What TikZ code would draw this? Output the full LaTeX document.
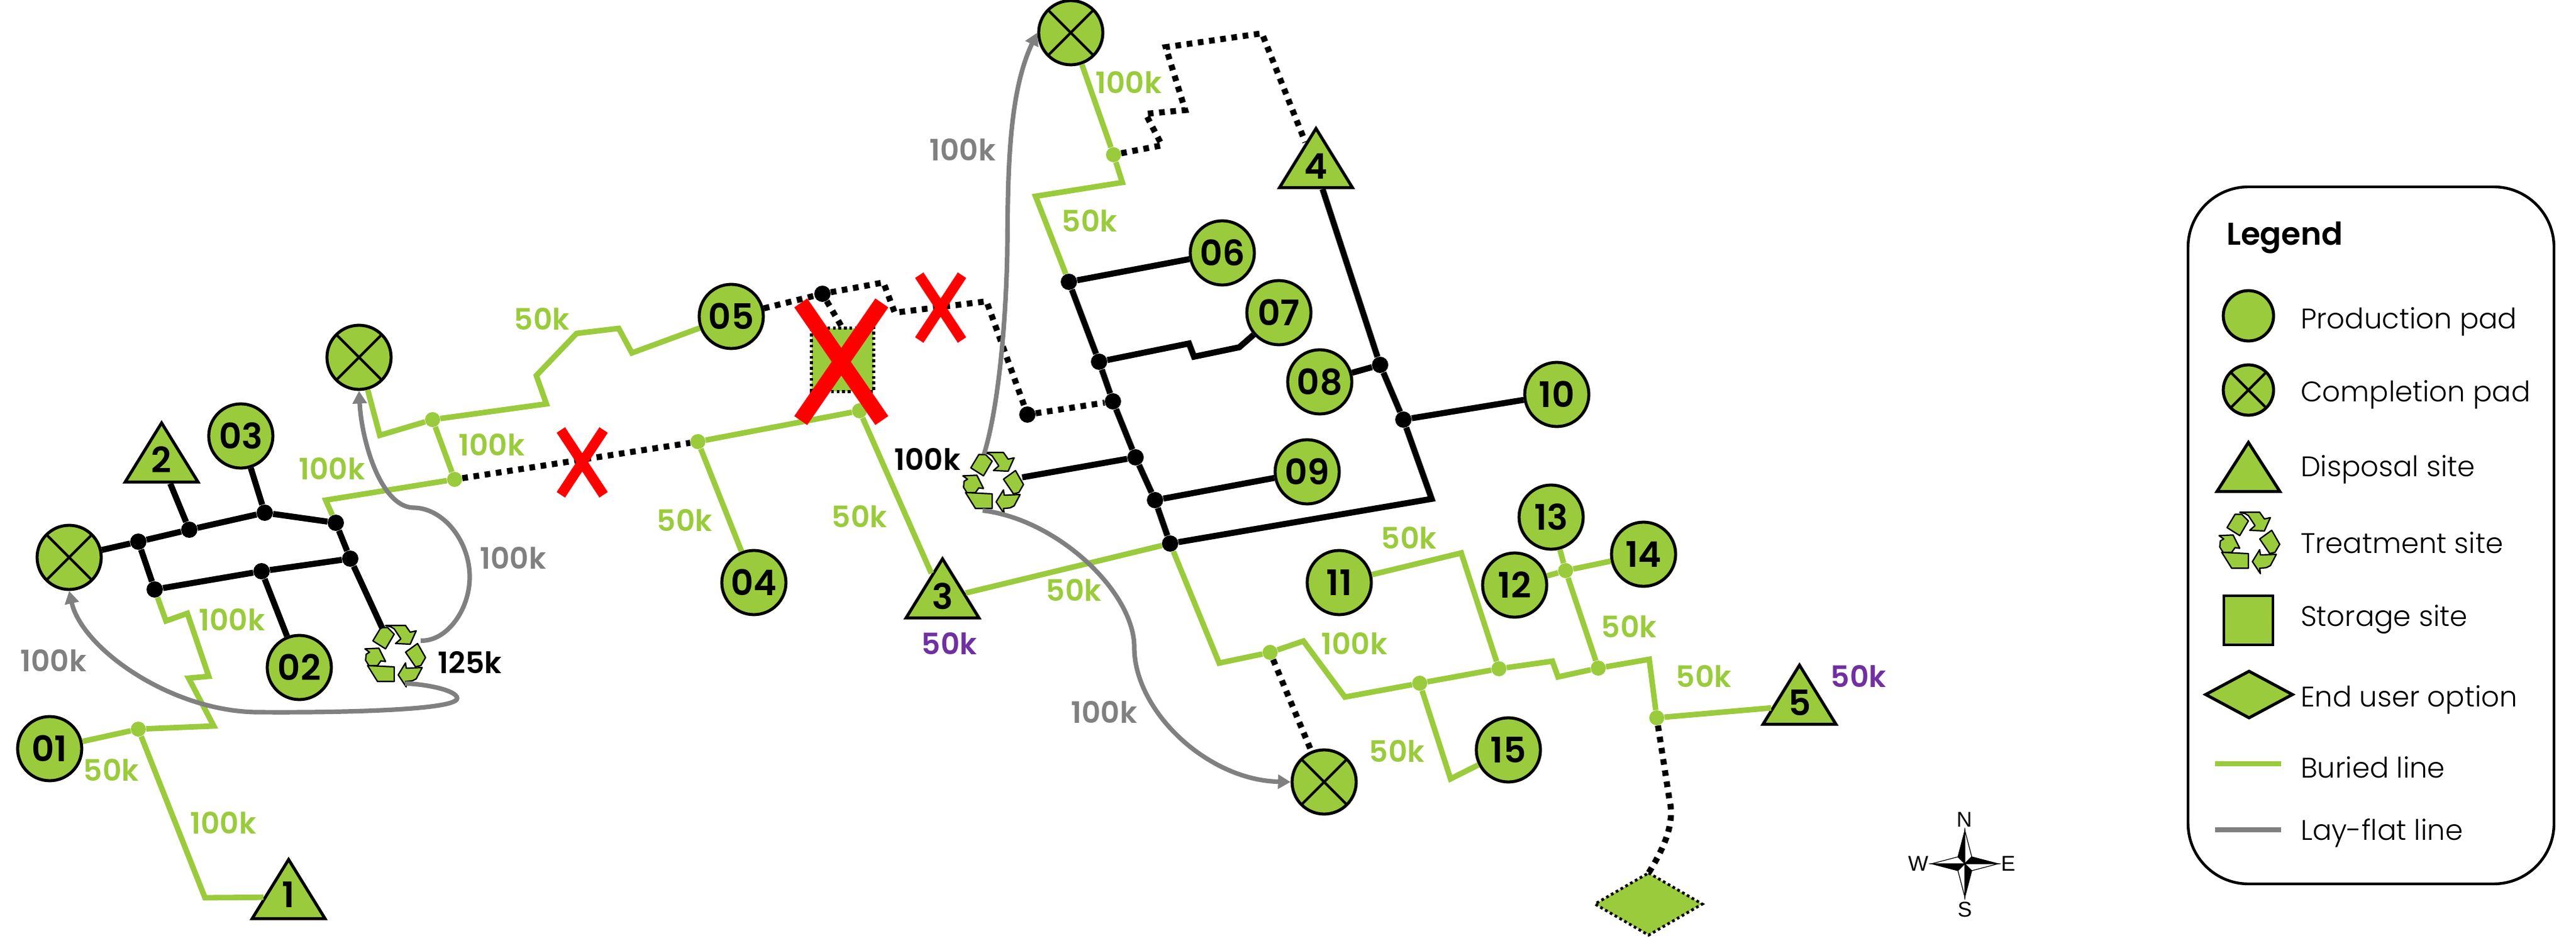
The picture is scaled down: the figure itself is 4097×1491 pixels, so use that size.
\documentclass[tikz,border=0pt]{standalone}
\usepackage{fontspec}
\setmainfont{Poppins Light}[BoldFont=Poppins SemiBold]
\newfontfamily\tagfont{Poppins SemiBold}
\newfontfamily\compassfont{Liberation Sans}
\usepackage{tikz}
\usetikzlibrary{arrows.meta}
\usetikzlibrary{shapes.geometric}
\usetikzlibrary{shapes.misc}
\definecolor{leaf}{HTML}{9ACB3C}
\definecolor{slate}{HTML}{808080}
\definecolor{plum}{HTML}{7030A0}

\begin{document}
\begin{tikzpicture}[x=0.5pt,y=-0.5pt,
    pad/.style={circle,draw=black,fill=leaf,line width=2.4pt,inner sep=0pt,minimum size=51pt,font=\tagfont\fontsize{28}{28}\selectfont},
    donepad/.style={pad,path picture={
      \draw [line width=2pt] (path picture bounding box.north west) -- (path picture bounding box.south east);
      \draw [line width=2pt] (path picture bounding box.north east) -- (path picture bounding box.south west);}},
    tri/.style={isosceles triangle,isosceles triangle stretches,shape border rotate=90,draw=black,fill=leaf,line width=2.4pt,inner sep=0pt,minimum width=58pt,minimum height=47pt,anchor=apex,font=\tagfont\fontsize{28}{28}\selectfont},
    store/.style={rectangle,draw=black,fill=leaf,inner sep=0pt},
    tank/.style={diamond,draw=black,fill=leaf,inner sep=0pt},
    site/.style={circle,inner sep=0pt,minimum size=47pt},
    jb/.style={circle,fill=black,inner sep=0pt,minimum size=13pt},
    jg/.style={circle,fill=leaf,inner sep=0pt,minimum size=12pt},
    redx/.style={cross out,draw=red,inner sep=0pt,outer sep=0pt},
    pipe/.style={black,line width=4.8pt},
    buried/.style={leaf,line width=4.4pt},
    dots/.style={black,line width=4.8pt,dash pattern=on 4.5pt off 4.5pt},
    layflat/.style={slate,line width=3.6pt,-{Triangle[length=10pt,width=11pt]}},
    tag/.style={font=\tagfont\fontsize{23.5}{23.5}\selectfont},
    key/.style={anchor=west,font=\fontsize{22.5}{22.5}\selectfont},
    recycle/.pic={
      \begin{scope}[scale=1.06]
      \foreach \shp in {
        {(-33,-22)--(-21,-42)--(-11,-42)--(-1,-32)--(-14,-10)},
        {(-14,-45)--(16,-45)--(23,-35)--(32,-37)--(23,-17)--(1,-18)--(9,-25)--(-1,-40)--(-6,-43)},
        {(16,-5)--(34,-18)--(46,3)--(39,15)--(31,17)},
        {(41,18)--(32,35)--(26,38)--(16,39)--(17,47)--(5,29)--(16,11)--(17,19)},
        {(-41,15)--(-1,17)--(-1,39)--(-26,39)},
        {(-45,-10)--(-24,-11)--(-14,9)--(-21,8)--(-26,15)--(-39,15)--(-44,7)--(-43,-2)--(-38,-5)}}
        \filldraw [fill=leaf,draw=black,line width=1.1pt,line join=round] \shp -- cycle;
      \end{scope}
    }]
  \useasboundingbox (0,0) rectangle (4097,1491);

  % pads
  \foreach \n/\x/\y in {01/79/1190,02/476/1061,03/383/693,04/1199/926,05/1163/503,06/1944/402,07/2034/497,08/2099/607,09/2079/750,10/2476/627,11/2130/926,12/2409/930,13/2467/822,14/2614/881,15/2399/1192}
    \node [pad] (n\n) at (\x,\y) {\n};

  \node [donepad] (cL) at (110,886) {};
  \node [donepad] (cA) at (571,568) {};
  \node [donepad] (cT) at (1703,52) {};
  \node [donepad] (cB) at (2106,1243) {};

  % disposal sites, placed by apex
  \node [tri] (s1) at (459,1360) {\raisebox{4pt}{1}};
  \node [tri] (s2) at (257,666) {\raisebox{4pt}{2}};
  \node [tri] (s3) at (1499,882) {\raisebox{4pt}{3}};
  \node [tri] (s4) at (2093,198) {\raisebox{4pt}{4}};
  \node [tri] (s5) at (2862,1051) {\raisebox{4pt}{5}};

  \node [site] (t1) at (628,1042) {};
  \node [site] (t2) at (1579,767) {};
  \pic at (t1) {recycle};
  \pic at (t2) {recycle};

  \node [store,draw=none,minimum width=49pt,minimum height=50pt] (tank) at (1340,572) {};
  \draw [dots,line width=2.2pt,dash pattern=on 2.2pt off 2.2pt] (tank.north west) rectangle (tank.south east);
  \node [tank,draw=none,minimum width=85pt,minimum height=49pt] (user) at (2622,1437) {};
  \draw [dots,line width=2.2pt,dash pattern=on 2.2pt off 2.2pt] (user.north) -- (user.east) -- (user.south) -- (user.west) -- cycle;

  % junctions
  \foreach \n/\x/\y in {b1/220/861,b2/301/842,b3/421/815,b4/534/831,b5/557/888,b6/416/908,b7/246/937,k1/1700/448,k2/1748/575,k3/1770/638,k4/1806/727,k5/1837/795,k6/1861/864,k7/2195/580,k8/2232/667,d1/1308/467,d2/1634/659}
    \node [jb] (\n) at (\x,\y) {};
  \foreach \n/\x/\y in {g1/220/1159,g2/688/667,g3/723/762,g4/1110/702,g5/1367/653,g6/1771/246,g7/2020/1037,g8/2258/1086,g9/2384/1063,g10/2542/1062,g11/2635/1141,g12/2490/907}
    \node [jg] (\n) at (\x,\y) {};

  % black lines
  \draw [pipe] (cL) -- (b1) -- (b2) -- (b3) -- (b4) -- (b5) -- (b6) -- (b7) -- (b1);
  \draw [pipe] (b2) -- (s2);
  \draw [pipe] (b3) -- (n03);
  \draw [pipe] (b6) -- (n02);
  \draw [pipe] (b5) -- (t1);
  \draw [pipe] (k1) -- (n06);
  \draw [pipe] (k1) -- (k2) -- (k3) -- (k4) -- (k5) -- (k6);
  \draw [pipe] (k2) -- (1891,546) -- (1899,567) -- (1971,552) -- (n07);
  \draw [pipe] (k4) -- (t2);
  \draw [pipe] (k5) -- (n09);
  \draw [pipe] (k6) -- (2277,793) -- (k8) -- (k7) -- (s4);
  \draw [pipe] (k7) -- (n08);
  \draw [pipe] (k8) -- (n10);

  % green lines
  \draw [buried] (n01) -- (g1) -- (340,1154) -- (300,1078) -- (332,1075) -- (298,975) -- (264,987) -- (b7);
  \draw [buried] (g1) -- (326,1427) -- (s1);
  \draw [buried] (cA) -- (604,692) -- (g2) -- (869,642) -- (853,597) -- (917,530) -- (984,522) -- (1005,561) -- (n05);
  \draw [buried] (g2) -- (g3) -- (518,795) -- (b4);
  \draw [buried] (g4) -- (g5);
  \draw [buried] (g4) -- (n04);
  \draw [buried] (g5) -- (s3);
  \draw [buried] (s3) -- (k6);
  \draw [buried] (cT) -- (g6) -- (1785,290) -- (1647,312) -- (k1);
  \draw [buried] (k6) -- (1939,1054) -- (g7) -- (2073,1019) -- (2139,1108) -- (g8) -- (g9) -- (2469,1051) -- (2478,1076) -- (g10) -- (2623,1048) -- (g11) -- (s5);
  \draw [buried] (n11) -- (2324,879) -- (g9);
  \draw [buried] (g10) -- (g12) -- (n13);
  \draw [buried] (n12) -- (g12) -- (n14);
  \draw [buried] (g8) -- (2307,1238) -- (n15);

  % dotted lines
  \draw [dots] (g3) -- (g4);
  \draw [dots] (n05) -- (d1);
  \draw [dots] (d1) -- (tank.north);
  \draw [dots] (d1) -- (1405,449) -- (1423,497) -- (1569,479) -- (d2);
  \draw [dots] (d2) -- (k3);
  \draw [dots] (g6) -- (1848,231) -- (1822,181) -- (1885,175) -- (1854,75) -- (2007,53) -- (s4);
  \draw [dots] (g7) -- (cB);
  \draw [dots] (g11) -- (2655,1270) .. controls (2665,1310) and (2645,1350) .. (user.north);

  % lay-flat lines
  \draw [layflat] (t1.30) .. controls (710,1020) and (747,970) .. (747,917) .. controls (747,860) and (705,807) .. (657,807) .. controls (605,805) and (575,700) .. (cA.south);
  \draw [layflat] (t1.-70) .. controls (675,1087) and (727,1097) .. (727,1110) .. controls (727,1130) and (520,1133) .. (408,1132) .. controls (270,1130) and (130,1030) .. (cL.south);
  \draw [layflat] (t2.107) .. controls (1590,640) and (1600,500) .. (1602,402) .. controls (1603,280) and (1603,150) .. (cT.west);
  \draw [layflat] (t2.250) .. controls (1680,825) and (1804,940) .. (1804,1029) .. controls (1804,1130) and (1920,1240) .. (cB.west);

  % crosses
  \node [redx,line width=12.5pt,minimum width=64.5pt,minimum height=93.5pt] (x1) at (1338,575) {};
  \node [redx,line width=8pt,minimum width=34pt,minimum height=51.5pt] (x2) at (1496,489) {};
  \node [redx,line width=8pt,minimum width=34pt,minimum height=51.5pt] (x3) at (926,735) {};

  % volumes
  \foreach \n/\x/\y/\t in {a/177/1224/50k,b/355/1308/100k,c/369/985/100k,d/528/745/100k,e/782/707/100k,f/862/507/50k,g/1089/827/50k,h/1367/821/50k,i/1708/938/50k,j/1733/351/50k,k/1795/131/100k,l/2241/855/50k,m/2154/1023/100k,n/2591/996/50k,o/2710/1075/50k,p/2222/1194/50k}
    \node [tag,leaf] (v\n) at (\x,\y) {\t};
  \foreach \n/\x/\y in {a/85/1050,b/816/887,c/1531/238,d/1756/1132}
    \node [tag,slate] (w\n) at (\x,\y) {100k};
  \node [tag,plum] (p1) at (1510,1023) {50k};
  \node [tag,plum] (p2) at (2956,1075) {50k};
  \node [tag] (q1) at (747,1053) {125k};
  \node [tag] (q2) at (1475,730) {100k};

  % compass
  \foreach \a in {0,90,180,270} {
    \filldraw [rotate around={\a:(3125,1373)},fill=black,draw=black,line width=0.6pt] (3125,1320) -- (3114,1362) -- (3125,1373) -- cycle;
    \filldraw [rotate around={\a:(3125,1373)},fill=white,draw=black,line width=0.6pt] (3125,1320) -- (3136,1362) -- (3125,1373) -- cycle;
  }
  \foreach \t/\x/\y in {N/3124/1303,S/3125/1446,W/3051/1373,E/3194/1373}
    \node [font=\compassfont\fontsize{17}{17}\selectfont] (dir\t) at (\x,\y) {\t};

  % legend
  \node [draw=black,line width=2.2pt,rounded corners=48pt,minimum width=291pt,minimum height=554pt] (legend) at (3771,851) {};
  \node [anchor=west,font=\fontsize{25}{25}\selectfont\bfseries] (title) at (3534,378) {Legend};
  \node [pad,minimum size=40pt] (lk1) at (3576,502) {};
  \node [donepad,minimum size=40pt] (lk2) at (3576,620) {};
  \node [tri,minimum width=50pt,minimum height=39pt] (lk3) at (3576,697) {};
  \node [site] (lk4) at (3577,862) {};
  \pic at (lk4) {recycle};
  \node [store,line width=2.4pt,minimum size=39pt] (lk5) at (3576,986) {};
  \node [tank,line width=2.4pt,minimum width=70pt,minimum height=38pt] (lk6) at (3577,1104) {};
  \coordinate (m1) at (3523,1214);
  \coordinate (m2) at (3628,1214);
  \coordinate (m3) at (3523,1319);
  \coordinate (m4) at (3628,1319);
  \draw [buried] (m1) -- (m2);
  \draw [slate,line width=4pt] (m3) -- (m4);
  \foreach \n/\y/\t in {1/511/Production pad,2/627/Completion pad,3/746/Disposal site,4/863/Treatment site,5/985/Storage site,6/1112/End user option,7/1220/Buried line,8/1324/Lay-flat line}
    \node [key] (kt\n) at (3652,\y) {\t};
\end{tikzpicture}
\end{document}
